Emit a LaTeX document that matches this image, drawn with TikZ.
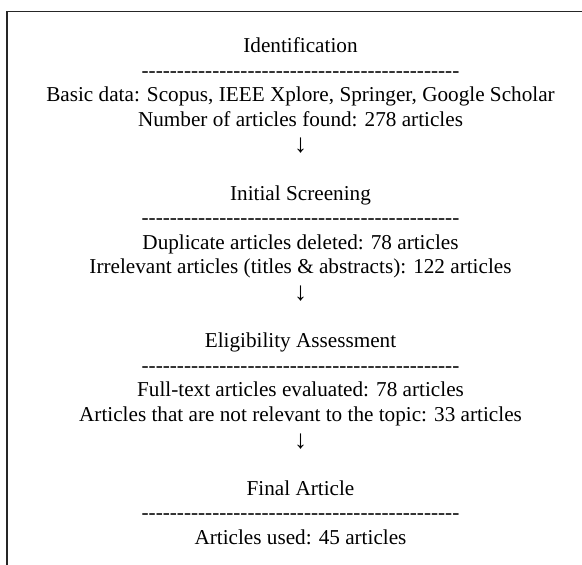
\documentclass[tikz,border=0pt]{standalone}
\usepackage{fontspec}
\setmainfont{Liberation Serif}[Ligatures=TeXOff]
\newcommand\dashrow{---------------------------------------------}
\begin{document}
\begin{tikzpicture}[x=1pt,y=-1pt,
  txt/.style={anchor=base,inner sep=0pt,font=\fontsize{21.2}{25}\selectfont,text=black},
  arr/.style={txt,font=\fontsize{26}{25}\selectfont},
  frame/.style={draw=black!85,line width=1.5pt}]
\useasboundingbox (0,0) rectangle (582,565);
\begin{scope}
\clip (0,0) rectangle (582,565);
\draw[frame] (7.2,11.7) rectangle (620,620);
\end{scope}
\def\cx{300.5}
\def\ls{24.6}
\def\yo{52.5}
\node[txt] (t1) at (\cx,{\yo+0*\ls}) {Identification};
\node[txt] (d1) at (\cx,{\yo+1*\ls}) {\dashrow};
\node[txt] (a1) at (\cx,{\yo+2*\ls}) {Basic data: Scopus, IEEE Xplore, Springer, Google Scholar};
\node[txt] (b1) at (\cx,{\yo+3*\ls}) {Number of articles found: 278 articles};
\node[arr] (r1) at (\cx,{\yo+4*\ls+2}) {↓};
\node[txt] (t2) at (\cx,{\yo+6*\ls}) {Initial Screening};
\node[txt] (d2) at (\cx,{\yo+7*\ls}) {\dashrow};
\node[txt] (a2) at (\cx,{\yo+8*\ls}) {Duplicate articles deleted: 78 articles};
\node[txt] (b2) at (\cx,{\yo+9*\ls}) {Irrelevant articles (titles \& abstracts): 122 articles};
\node[arr] (r2) at (\cx,{\yo+10*\ls+2}) {↓};
\node[txt] (t3) at (\cx,{\yo+12*\ls}) {Eligibility Assessment};
\node[txt] (d3) at (\cx,{\yo+13*\ls}) {\dashrow};
\node[txt] (a3) at (\cx,{\yo+14*\ls}) {Full-text articles evaluated: 78 articles};
\node[txt] (b3) at (\cx,{\yo+15*\ls}) {Articles that are not relevant to the topic: 33 articles};
\node[arr] (r3) at (\cx,{\yo+16*\ls+2}) {↓};
\node[txt] (t4) at (\cx,{\yo+18*\ls}) {Final Article};
\node[txt] (d4) at (\cx,{\yo+19*\ls}) {\dashrow};
\node[txt] (a4) at (\cx,{\yo+20*\ls}) {Articles used: 45 articles};
\end{tikzpicture}
\end{document}
